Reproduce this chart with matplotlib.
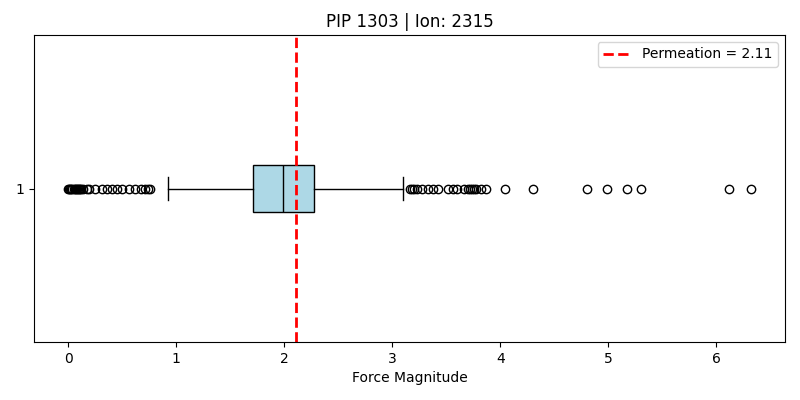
import matplotlib
matplotlib.use("Agg")
import matplotlib.pyplot as plt

q1, med, q3 = 1.713, 1.99, 2.278
whislo, whishi = 0.925, 3.10
low_fliers = [0.0, 0.01, 0.02, 0.03, 0.04, 0.05, 0.06, 0.07, 0.08, 0.09, 0.10, 0.11, 0.12,
              0.14, 0.17, 0.19, 0.25, 0.31, 0.36, 0.41, 0.45, 0.50, 0.56, 0.62, 0.67, 0.71, 0.74, 0.76]
high_fliers = [3.16, 3.18, 3.20, 3.23, 3.28, 3.33, 3.38, 3.42, 3.52, 3.56, 3.60, 3.66, 3.70,
               3.72, 3.74, 3.76, 3.78, 3.82, 3.87, 4.04, 4.30, 4.80, 4.99, 5.17, 5.30, 6.12, 6.32]
permeation = 2.11
title = "PIP 1303 | Ion: 2315"

fig, ax = plt.subplots(figsize=(8, 4), dpi=100)
stats = [dict(med=med, q1=q1, q3=q3, whislo=whislo, whishi=whishi,
              fliers=low_fliers + high_fliers, label="1")]
ax.bxp(stats, vert=False, patch_artist=True,
       boxprops=dict(facecolor="lightblue", edgecolor="black"),
       medianprops=dict(color="black"),
       flierprops=dict(marker="o", markerfacecolor="none", markeredgecolor="black"))
ax.axvline(permeation, color="red", linestyle="--", linewidth=2,
           label=f"Permeation = {permeation:.2f}")
ax.set_title(title)
ax.set_xlabel("Force Magnitude")
ax.legend(loc="upper right")
fig.subplots_adjust(left=34/800, right=785/800, top=1-35/400, bottom=1-342/400)
fig.savefig("out.png")
